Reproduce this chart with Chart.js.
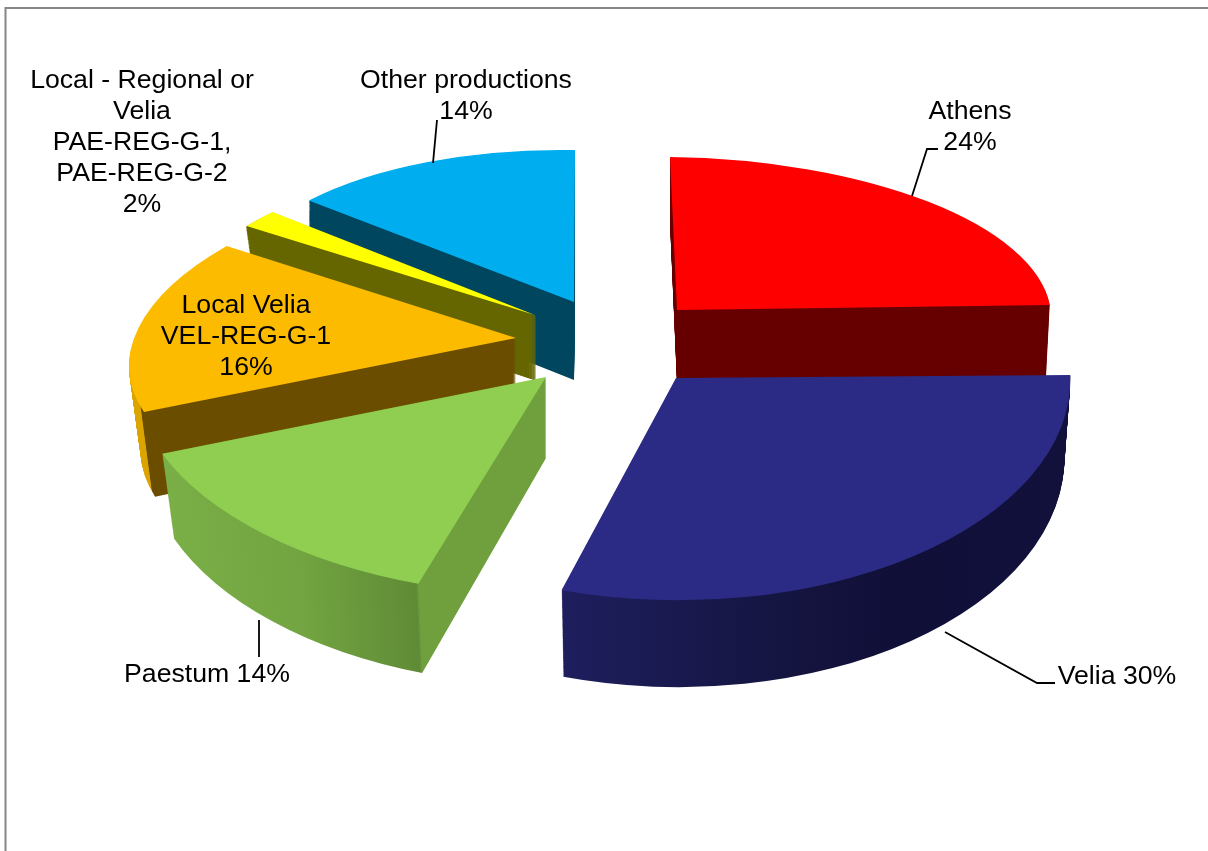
<!DOCTYPE html>
<html>
<head>
<meta charset="utf-8">
<style>
  html, body { margin: 0; background: #fff; }
  canvas { display: block; }
</style>
<script src="https://cdn.jsdelivr.net/npm/chart.js@4/dist/chart.umd.min.js"></script>
</head>
<body>
<canvas id="pieChart" width="1208" height="851"></canvas>
<script>
// Data
const categories = ["Athens", "Velia", "Paestum", "Local Velia", "Local - Regional", "Other productions"];
const shares = [24, 30, 14, 16, 2, 14];

// Colours
const topColors = ["#ff0000", "#2b2b85", "#8fce50", "#fdbb00", "#ffff00", "#00aeef"];
const wallStops = [
    [[670, "#660000"], [1050, "#660000"]],
    [[562, "#1e1e5e"], [800, "#14143f"], [900, "#0f0f38"], [1070, "#11113c"]],
    [[165, "#7aae46"], [300, "#72a441"], [416, "#5f8b36"], [419, "#70a03e"], [548, "#70a03e"]],
    [[125, "#dba400"], [140, "#dba400"], [141, "#6b4d00"], [520, "#6b4d00"]],
    [[240, "#666600"], [540, "#666600"]],
    [[305, "#00465f"], [580, "#00465f"]]
];

// 3D look: exploded position, tilted disc per slice [a, b, c, d], wall height
const pieCenter = [610, 345];
const explode = [[67, -35], [66, 33], [-64, 32], [-94, -7], [-75, -30], [-36, -43]];
const tilt = [[374, 4.6, 7, 153], [394, 11, -17, 222], [412, 17.7, -26, 218], [382, -0.5, -62, 172.5], [345, 12, -5.4, 147], [345, 6, -1, 152]];
const wallHeight = [73, 78, 81, 82, 65, 78];
const wallEdge = [0, 0, 0, 0, 2, 0];   // the yellow sliver is thinner than a layer near its tip
const taperX = [0.99, 0.985, 0.97, 0.97, 0.97, 1];
const taperY = 1.04;
const paintOrder = [5, 4, 3, 2, 0, 1];
const RADIUS = 400;

// Labels
const font = '26.67px "Liberation Sans", Arial, sans-serif';
const lineGap = 30.8;
const labelLines = [
    ["Athens"],
    [],
    [],
    ["Local Velia", "VEL-REG-G-1"],
    ["Local - Regional or", "Velia", "PAE-REG-G-1,", "PAE-REG-G-2"],
    ["Other productions"]
];
const inlineName = [null, "Velia", "Paestum", null, null, null];
const labelPos = [[970, 112], [1117, 677], [207, 675], [246, 306], [142, 81], [466, 81]];
const leaders = [
    [[938, 149], [927, 149], [912, 196]],
    [[945, 632], [1037, 683], [1055, 683]],
    [[259, 620], [259, 657]],
    [],
    [],
    [[437, 120], [433, 163]]
];

const pie3d = {
    id: "pie3d",
    beforeDraw(chart) {
        const ctx = chart.ctx;
        ctx.save();
        ctx.strokeStyle = "#868686";
        ctx.lineWidth = 2;
        ctx.beginPath();
        ctx.moveTo(5.5, 851);
        ctx.lineTo(5.5, 8);
        ctx.lineTo(1208, 8);
        ctx.stroke();
        ctx.restore();
    },
    beforeDatasetDraw(chart) {
        const ctx = chart.ctx;
        const arcs = chart.getDatasetMeta(0).data;
        paintOrder.forEach(function (i) {
            const arc = arcs[i];
            const m = tilt[i].map(v => v / RADIUS);
            const ax = pieCenter[0] + explode[i][0];
            const ay = pieCenter[1] + explode[i][1];
            const orig = arc.options;

            // gradient runs along screen x, whatever the slice's tilt is
            const len = m[0] * m[0] + m[2] * m[2];
            const stops = wallStops[i];
            const x0 = stops[0][0], x1 = stops[stops.length - 1][0];
            const grad = ctx.createLinearGradient(
                arc.x + m[0] * (x0 - ax) / len, arc.y + m[2] * (x0 - ax) / len,
                arc.x + m[0] * (x1 - ax) / len, arc.y + m[2] * (x1 - ax) / len
            );
            stops.forEach(s => grad.addColorStop((s[0] - x0) / (x1 - x0), s[1]));

            const paint = function (drop, f, color, edge) {
                const o = Object.create(orig);
                o.backgroundColor = color;
                o.borderColor = color;
                o.borderWidth = edge;
                o.borderJoinStyle = "round";
                arc.options = o;
                ctx.save();
                ctx.translate(ax, ay + drop);
                ctx.scale(1 + (taperX[i] - 1) * f, 1 + (taperY - 1) * f);
                ctx.transform(m[0], m[1], m[2], m[3], 0, 0);
                ctx.translate(-arc.x, -arc.y);
                arc.draw(ctx);
                ctx.restore();
            };
            for (let d = wallHeight[i]; d > 0; d--) {
                paint(d, d / wallHeight[i], grad, wallEdge[i]);
            }
            paint(0, 0, topColors[i], 0);
            arc.options = orig;
        });
        return false;
    },
    afterDatasetsDraw(chart) {
        const ctx = chart.ctx;
        ctx.save();
        ctx.strokeStyle = "#000";
        ctx.lineWidth = 1.8;
        leaders.forEach(function (pts) {
            if (!pts.length) return;
            ctx.beginPath();
            pts.forEach((p, k) => k ? ctx.lineTo(p[0], p[1]) : ctx.moveTo(p[0], p[1]));
            ctx.stroke();
        });
        ctx.fillStyle = "#000";
        ctx.font = font;
        ctx.textAlign = "center";
        ctx.textBaseline = "middle";
        shares.forEach(function (v, i) {
            const pct = v + "%";
            const lines = inlineName[i] ? [inlineName[i] + " " + pct] : labelLines[i].concat([pct]);
            lines.forEach((t, k) => ctx.fillText(t, labelPos[i][0], labelPos[i][1] + k * lineGap));
        });
        ctx.restore();
    }
};

document.addEventListener("DOMContentLoaded", function () {
    new Chart(document.getElementById("pieChart").getContext("2d"), {
        type: "pie",
        data: {
            labels: categories,
            datasets: [{ data: shares, backgroundColor: topColors, borderWidth: 0 }]
        },
        options: {
            responsive: false,
            animation: false,
            radius: RADIUS,
            plugins: { legend: { display: false }, tooltip: { enabled: false } }
        },
        plugins: [pie3d]
    });
});
</script>
</body>
</html>
